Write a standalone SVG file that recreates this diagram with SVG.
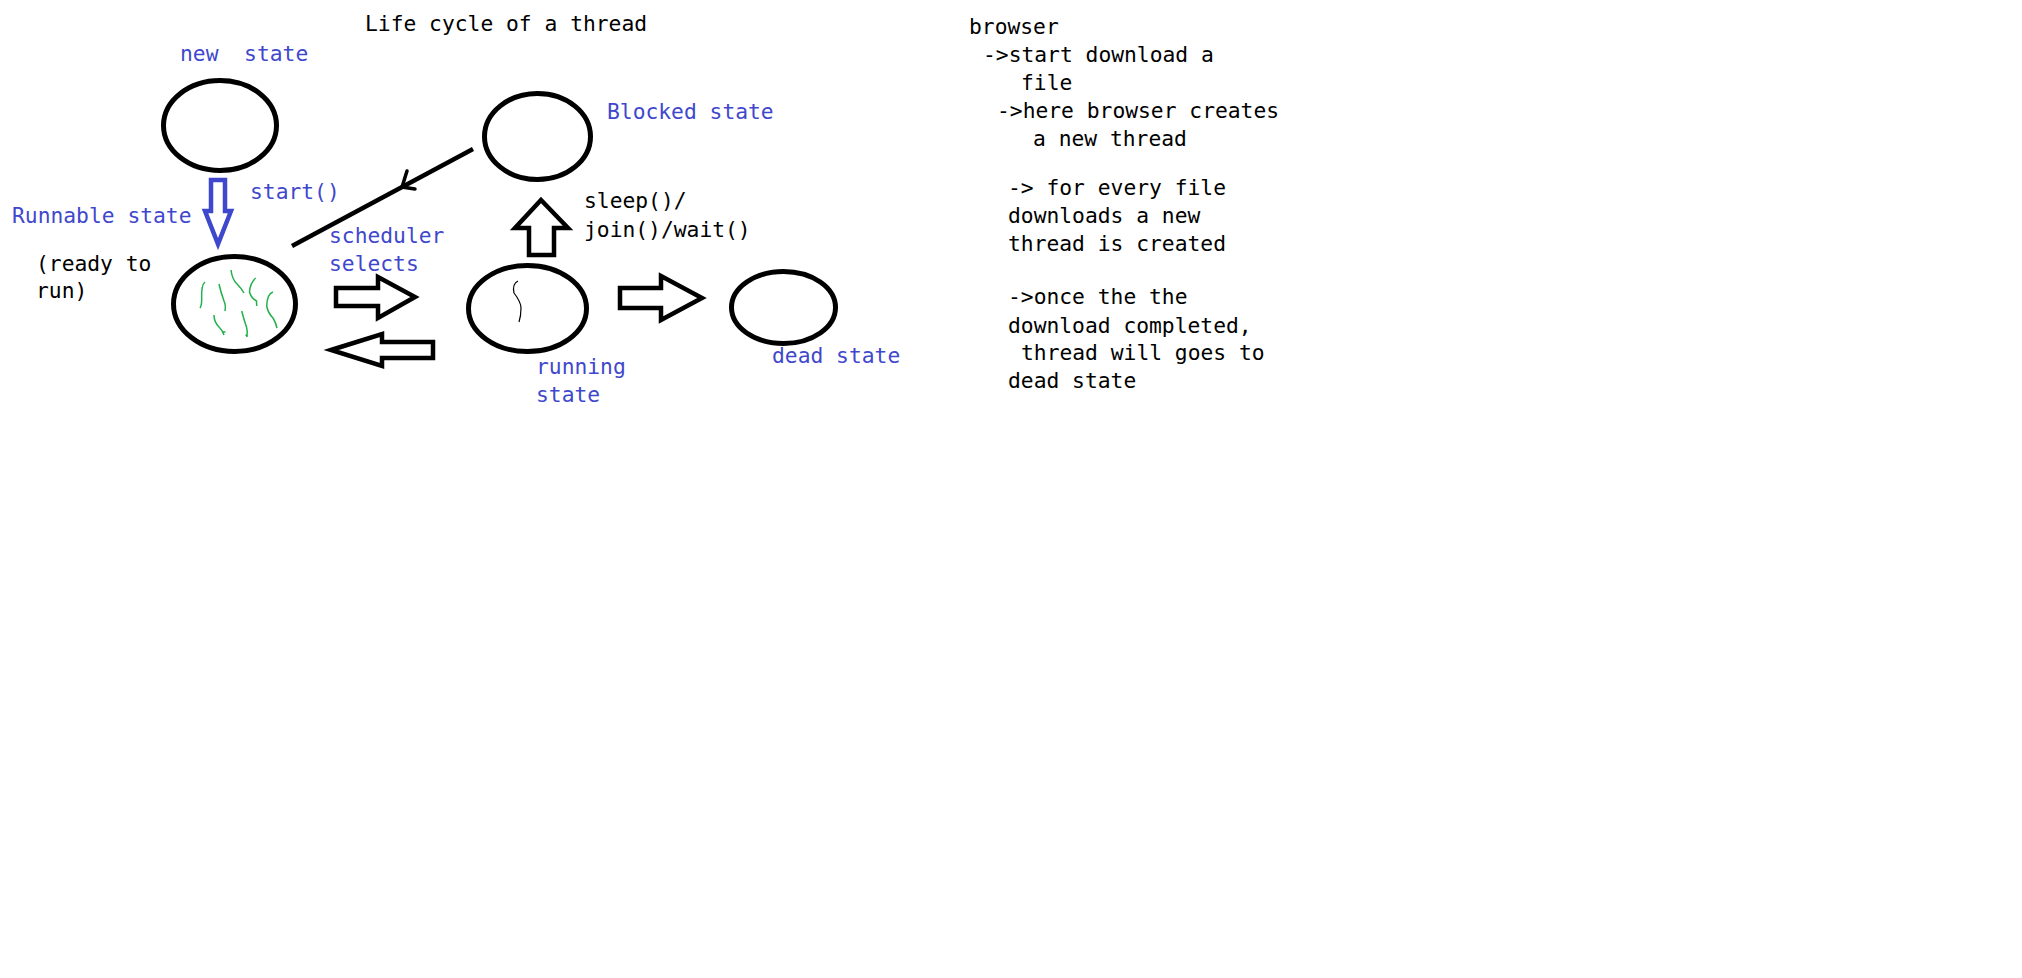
<svg xmlns="http://www.w3.org/2000/svg" width="2022" height="978" viewBox="0 0 2022 978">
<style>
text{font-family:"DejaVu Sans Mono","Liberation Mono",monospace;font-size:21.3px;fill:#000}
.b{fill:#3f48cc}
.st{fill:#fff;stroke:#000;stroke-width:5}
.ha{fill:#fff;stroke:#000;stroke-width:4.5;stroke-linejoin:miter}
.g{fill:none;stroke:#22b14c;stroke-width:1.5}
</style>
<rect width="2022" height="978" fill="#fff"/>
<text x="365" y="31">Life cycle of a thread</text>
<g id="new-state">
<ellipse class="st" cx="220" cy="125.5" rx="56.5" ry="45"/>
<text class="b" x="180" y="61" xml:space="preserve">new  state</text>
</g>
<g id="runnable-state">
<ellipse class="st" cx="234.5" cy="304" rx="61" ry="47.5"/>
<path class="g" d="M205,282 Q201,285 201.7,300 Q201.5,306 200,308"/>
<path class="g" d="M219,284 Q221,293 224,301 Q226,305 225,311"/>
<path class="g" d="M231,270 Q232,279 237,284 Q242,289 244,293"/>
<path class="g" d="M255.7,278 Q250,283 249.5,292 Q251,298 256.5,301 L256.7,306"/>
<path class="g" d="M273,292 Q267,294 266.7,306 Q268,313 273,318 Q276,323 277,328"/>
<path class="g" d="M214,315 Q214,322 219,327 Q223,331 224,335 M223,332 L225.5,332"/>
<path class="g" d="M241.7,311 Q244,320 246.5,327 Q248,332 246.7,337 M245.5,335 L248,336"/>
<text class="b" x="12" y="223">Runnable state</text>
<text x="36" y="271">(ready to</text>
<text x="36" y="298">run)</text>
</g>
<g id="blocked-state">
<ellipse class="st" cx="537.5" cy="136.5" rx="53" ry="43"/>
<text class="b" x="607" y="119">Blocked state</text>
</g>
<g id="running-state">
<ellipse class="st" cx="527.5" cy="308.5" rx="59" ry="43"/>
<path d="M518,281 Q512,284 514,293 Q521,302 521,308 Q521,316 519,322" fill="none" stroke="#000" stroke-width="1.2"/>
<text class="b" x="536" y="374">running</text>
<text class="b" x="536" y="402">state</text>
</g>
<g id="dead-state">
<ellipse class="st" cx="783.5" cy="307.5" rx="52" ry="36"/>
<text class="b" x="772" y="363">dead state</text>
</g>
<g id="connectors">
<polygon points="211,180 225,180 225,211 231,211 218,244 205,211 211,211" fill="#fff" stroke="#3f48cc" stroke-width="4.5"/>
<text class="b" x="250" y="199">start()</text>
<line x1="292" y1="246" x2="473" y2="149" stroke="#000" stroke-width="4.5"/>
<polyline points="407,171 402,187 415,189" fill="none" stroke="#000" stroke-width="3.5" stroke-linecap="round"/>
<polygon class="ha" points="336,288 378,288 378,277 415,297 378,318 378,306 336,306"/>
<polygon class="ha" points="331,350 382,334 382,342 433,342 433,358 382,358 382,366"/>
<text class="b" x="329" y="243">scheduler</text>
<text class="b" x="329" y="271">selects</text>
<polygon class="ha" points="541,200 568,228 554,228 554,255 529,255 529,228 515,228"/>
<text x="584" y="208">sleep()/</text>
<text x="584" y="237">join()/wait()</text>
<polygon class="ha" points="620,288 661,288 661,276 702,298 661,320 661,308 620,308"/>
</g>
<g id="notes">
<text x="969" y="34">browser</text>
<text x="983" y="62">-&gt;start download a</text>
<text x="1021" y="90">file</text>
<text x="997" y="118">-&gt;here browser creates</text>
<text x="1033" y="146">a new thread</text>
<text x="1008" y="195">-&gt; for every file</text>
<text x="1008" y="223">downloads a new</text>
<text x="1008" y="251">thread is created</text>
<text x="1008" y="304">-&gt;once the the</text>
<text x="1008" y="333">download completed,</text>
<text x="1021" y="360">thread will goes to</text>
<text x="1008" y="388">dead state</text>
</g>
</svg>
